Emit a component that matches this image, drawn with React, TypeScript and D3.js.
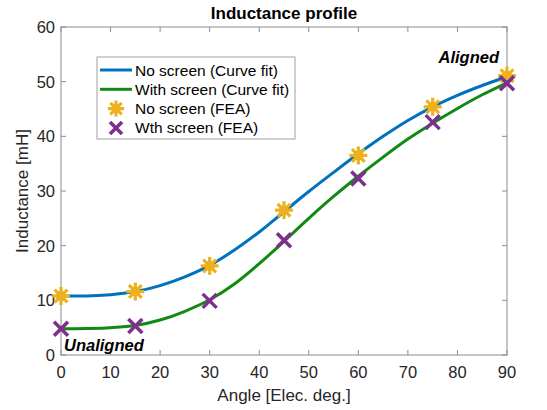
import React, { useEffect, useRef } from "react";
import * as d3 from "d3";

// curve fits, every 5 deg
const FIT_ANGLES = [0, 5, 10, 15, 20, 25, 30, 35, 40, 45, 50, 55, 60, 65, 70, 75, 80, 85, 90];
const FIT_NO_SCREEN = [10.8, 10.8, 11.0, 11.6, 12.7, 14.3, 16.4, 19.2, 22.5, 26.2, 29.9, 33.4, 36.8, 40.0, 42.9, 45.4, 47.5, 49.3, 50.9];
const FIT_WITH_SCREEN = [4.8, 4.85, 5.0, 5.4, 6.4, 8.0, 10.1, 13.0, 16.7, 20.8, 25.0, 29.0, 32.7, 36.2, 39.5, 42.4, 45.1, 47.6, 49.8];

// FEA points
const FEA_ANGLES = [0, 15, 30, 45, 60, 75, 90];
const FEA_NO_SCREEN = [10.8, 11.6, 16.3, 26.5, 36.5, 45.4, 51.1];
const FEA_WITH_SCREEN = [4.8, 5.3, 9.9, 21.0, 32.3, 42.6, 49.7];

const X_TICKS = [0, 10, 20, 30, 40, 50, 60, 70, 80, 90];
const Y_TICKS = [0, 10, 20, 30, 40, 50, 60];

const FONT = "'Liberation Sans', Arial, sans-serif";
const BLUE = "#0072BD";
const GREEN = "#118a11";
const YELLOW = "#EDB120";
const PURPLE = "#7E2F8E";

export default function App() {
  const ref = useRef<SVGSVGElement>(null);

  useEffect(() => {
    const svg = d3.select(ref.current);
    svg.selectAll("*").remove();

    const margin = { top: 27, right: 40, bottom: 55, left: 61 };
    const width = 547, height = 410;
    const x = d3.scaleLinear().domain([0, 90]).range([margin.left, width - margin.right]);
    const y = d3.scaleLinear().domain([0, 60]).range([height - margin.bottom, margin.top]);

    svg.style("background", "#fff");

    // box
    svg.append("rect")
      .attr("x", x(0)).attr("y", y(60))
      .attr("width", x(90) - x(0)).attr("height", y(0) - y(60))
      .attr("fill", "none").attr("stroke", "#8c8c8c").attr("stroke-width", 1);

    // ticks inside
    const tl = 5;
    X_TICKS.forEach((t) => {
      svg.append("line").attr("x1", x(t)).attr("x2", x(t)).attr("y1", y(0)).attr("y2", y(0) - tl).attr("stroke", "#8c8c8c");
      svg.append("line").attr("x1", x(t)).attr("x2", x(t)).attr("y1", y(60)).attr("y2", y(60) + tl).attr("stroke", "#8c8c8c");
    });
    Y_TICKS.forEach((t) => {
      svg.append("line").attr("x1", x(0)).attr("x2", x(0) + tl).attr("y1", y(t)).attr("y2", y(t)).attr("stroke", "#8c8c8c");
      svg.append("line").attr("x1", x(90)).attr("x2", x(90) - tl).attr("y1", y(t)).attr("y2", y(t)).attr("stroke", "#8c8c8c");
    });

    // tick labels
    svg.append("g").selectAll("text").data(X_TICKS).enter().append("text")
      .attr("x", (d) => x(d)).attr("y", y(0) + 23)
      .attr("text-anchor", "middle").attr("font-family", FONT).attr("font-size", 16.5).attr("fill", "#262626")
      .text((d) => d);
    svg.append("g").selectAll("text").data(Y_TICKS).enter().append("text")
      .attr("x", x(0) - 6).attr("y", (d) => y(d) + 6)
      .attr("text-anchor", "end").attr("font-family", FONT).attr("font-size", 16.5).attr("fill", "#262626")
      .text((d) => d);

    // titles
    svg.append("text").attr("x", 284).attr("y", 19).attr("text-anchor", "middle")
      .attr("font-family", FONT).attr("font-size", 17).attr("font-weight", "bold").attr("fill", "#000")
      .text("Inductance profile");
    svg.append("text").attr("x", 284).attr("y", 401).attr("text-anchor", "middle")
      .attr("font-family", FONT).attr("font-size", 17).attr("fill", "#262626")
      .text("Angle [Elec. deg.]");
    svg.append("text").attr("transform", `translate(28,${(y(0) + y(60)) / 2}) rotate(-90)`)
      .attr("text-anchor", "middle")
      .attr("font-family", FONT).attr("font-size", 17).attr("fill", "#262626")
      .text("Inductance [mH]");

    // curves
    const line = d3.line<number>()
      .x((_, i) => x(FIT_ANGLES[i]))
      .y((d) => y(d))
      .curve(d3.curveMonotoneX);
    svg.append("path").attr("d", line(FIT_NO_SCREEN)).attr("fill", "none").attr("stroke", BLUE).attr("stroke-width", 3);
    svg.append("path").attr("d", line(FIT_WITH_SCREEN)).attr("fill", "none").attr("stroke", GREEN).attr("stroke-width", 3);

    const star = (g: any, cx: number, cy: number, r: number) => {
      for (let k = 0; k < 4; k++) {
        const a = (k * Math.PI) / 4;
        g.append("line")
          .attr("x1", cx - r * Math.cos(a)).attr("y1", cy - r * Math.sin(a))
          .attr("x2", cx + r * Math.cos(a)).attr("y2", cy + r * Math.sin(a))
          .attr("stroke", YELLOW).attr("stroke-width", 3.2);
      }
      g.append("circle").attr("cx", cx).attr("cy", cy).attr("r", r * 0.55).attr("fill", YELLOW);
    };
    const cross = (g: any, cx: number, cy: number, r: number) => {
      g.append("line").attr("x1", cx - r).attr("y1", cy - r).attr("x2", cx + r).attr("y2", cy + r)
        .attr("stroke", PURPLE).attr("stroke-width", 3.5);
      g.append("line").attr("x1", cx - r).attr("y1", cy + r).attr("x2", cx + r).attr("y2", cy - r)
        .attr("stroke", PURPLE).attr("stroke-width", 3.5);
    };

    const marks = svg.append("g");
    FEA_ANGLES.forEach((a, i) => star(marks, x(a), y(FEA_NO_SCREEN[i]), 9));
    FEA_ANGLES.forEach((a, i) => cross(marks, x(a), y(FEA_WITH_SCREEN[i]), 7));

    // annotations
    svg.append("text").attr("x", 499).attr("y", 63).attr("text-anchor", "end")
      .attr("font-family", FONT).attr("font-size", 16.5).attr("font-weight", "bold").attr("font-style", "italic")
      .text("Aligned");
    svg.append("text").attr("x", 64).attr("y", 351)
      .attr("font-family", FONT).attr("font-size", 16.5).attr("font-weight", "bold").attr("font-style", "italic")
      .text("Unaligned");

    // legend
    const lg = svg.append("g");
    lg.append("rect").attr("x", 97).attr("y", 57).attr("width", 198).attr("height", 82)
      .attr("fill", "#fff").attr("stroke", "#a0a0a0").attr("stroke-width", 1);
    const rows = [
      { label: "No screen (Curve fit)", kind: "line", color: BLUE },
      { label: "With screen (Curve fit)", kind: "line", color: GREEN },
      { label: "No screen (FEA)", kind: "star", color: YELLOW },
      { label: "Wth screen (FEA)", kind: "cross", color: PURPLE },
    ];
    rows.forEach((r, i) => {
      const ry = 70 + i * 19.3;
      if (r.kind === "line") {
        lg.append("line").attr("x1", 100).attr("x2", 132).attr("y1", ry).attr("y2", ry)
          .attr("stroke", r.color).attr("stroke-width", 3);
      } else if (r.kind === "star") {
        star(lg, 116, ry, 8);
      } else {
        cross(lg, 116, ry, 6);
      }
      lg.append("text").attr("x", 135).attr("y", ry + 5.5)
        .attr("font-family", FONT).attr("font-size", 15.5).attr("fill", "#000")
        .text(r.label);
    });
  }, []);

  return (
    <svg ref={ref} width={547} height={410} style={{ position: "absolute", left: 0, top: 0 }} />
  );
}
